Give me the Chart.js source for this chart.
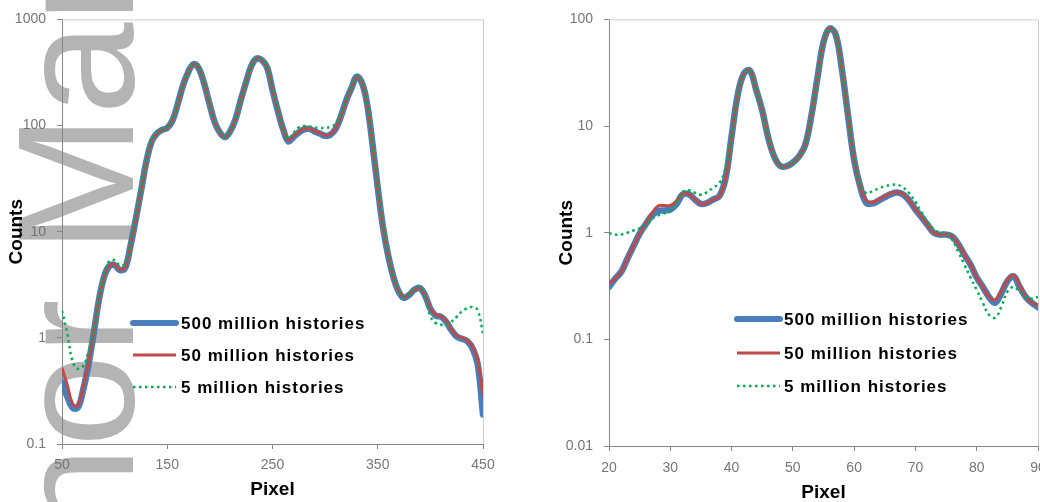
<!DOCTYPE html>
<html>
<head>
<meta charset="utf-8">
<script src="https://cdn.jsdelivr.net/npm/chart.js@4.4.1/dist/chart.umd.min.js"></script>
<style>
  html, body { margin: 0; padding: 0; background: #fff; }
  #wrap { position: relative; width: 1040px; height: 502px; overflow: hidden; }
  canvas { position: absolute; top: 0; }
</style>
</head>
<body>
<div id="wrap">
  <canvas id="profileWide" width="520" height="502" style="left:0;width:520px;height:502px"></canvas>
  <canvas id="profileZoom" width="520" height="502" style="left:520px;width:520px;height:502px"></canvas>
</div>
<script>
// ---- series names ----
const seriesNames = ['500 million histories', '50 million histories', '5 million histories'];

// ---- wide profile (pixels 50-450) ----
const leftPixel = [50,55,60,65,70,75,80,85,90,95,100,105,110,115,120,125,130,135,140,145,
  150,155,160,165,170,175,180,185,190,195,200,205,210,215,220,225,230,235,240,245,
  250,255,260,265,270,275,280,285,290,295,300,305,310,315,320,325,330,335,340,345,
  350,355,360,365,370,375,380,385,390,395,400,405,410,415,420,425,430,435,440,445,450];
const left500M = [0.38,0.28,0.22,0.22,0.32,0.55,1.08,2.25,3.75,4.75,
  4.85,4.35,4.55,7.3,13,24,45,70,84,91,
  95,112,160,240,320,378,345,250,162,108,
  86,78,89,116,176,258,367,428,412,350,
  216,138,93,71,78,86,92,93,88,84,
  80,82,93,122,172,225,288,252,157,67,
  26,11,5.9,3.7,2.7,2.38,2.55,2.85,2.95,2.5,
  1.88,1.62,1.58,1.42,1.18,1.03,0.98,0.93,0.8,0.56,
  0.19];
const left50M = [0.52,0.36,0.24,0.23,0.34,0.57,1.1,2.3,3.8,4.8,
  4.9,4.4,4.6,7.4,13,24,45,70,84,91,
  95,112,160,240,320,378,345,250,162,108,
  86,78,89,116,176,258,367,428,412,350,
  216,138,94,73,80,87,93,94,89,85,
  81,83,94,122,172,225,288,252,157,67,
  26,11,5.9,3.7,2.75,2.42,2.58,2.85,2.95,2.5,
  1.9,1.65,1.6,1.45,1.2,1.05,1.0,0.95,0.83,0.62,
  0.28];
const left5M = [1.8,1.1,0.6,0.51,0.54,0.73,1.1,2.4,4.0,5.3,
  5.4,4.8,5.0,7.8,14,25,46,72,86,92,
  96,113,162,242,322,380,347,252,163,109,
  87,79,90,117,178,260,369,430,414,352,
  218,140,95,75,85,96,99,98,96,95,
  95,97,104,130,175,228,290,254,159,68,
  27,11.5,6.0,3.8,2.8,2.45,2.6,2.9,3.0,2.45,
  1.6,1.38,1.33,1.33,1.42,1.58,1.78,1.9,1.95,1.82,
  1.1];
const leftXTicks = [50, 150, 250, 350, 450];
const leftYTicks = [0.1, 1, 10, 100, 1000];

// ---- zoomed profile (pixels 20-90) ----
const rightPixel = [20,21,22,23,24,25,26,27,28,29,30,31,32,33,34,35,36,37,38,39,
  40,41,42,43,44,45,46,47,48,49,50,51,52,53,54,55,56,57,58,59,
  60,61,62,63,64,65,66,67,68,69,70,71,72,73,74,75,76,77,78,79,
  80,81,82,83,84,85,86,87,88,89,90];
const right500M = [0.31,0.37,0.43,0.57,0.75,0.98,1.2,1.45,1.6,1.62,
  1.65,1.85,2.28,2.3,2.05,1.86,1.9,2.05,2.2,3.2,
  8.0,19.5,31,33,22,14,7.7,5.1,4.2,4.2,
  4.55,5.2,6.6,12.3,28,61,82,72,34,12.6,
  4.8,2.7,1.9,1.88,2.0,2.15,2.3,2.38,2.28,2.0,
  1.65,1.4,1.18,1.0,0.96,0.96,0.92,0.78,0.62,0.5,
  0.38,0.31,0.25,0.22,0.27,0.35,0.39,0.31,0.25,0.22,
  0.2];
const right50M = [0.33,0.37,0.43,0.57,0.75,0.98,1.22,1.52,1.78,1.8,
  1.8,1.98,2.3,2.3,2.05,1.86,1.9,2.05,2.2,3.2,
  8.0,19.5,31,33,22,14,7.7,5.1,4.2,4.2,
  4.55,5.2,6.6,12.3,28,61,82,72,34,12.6,
  4.8,2.7,2.0,1.93,2.05,2.2,2.35,2.4,2.3,2.0,
  1.65,1.4,1.18,1.0,0.96,0.96,0.92,0.78,0.62,0.5,
  0.38,0.31,0.25,0.235,0.28,0.36,0.4,0.32,0.25,0.22,
  0.21];
const right5M = [0.99,0.96,0.96,1.0,1.05,1.1,1.2,1.35,1.45,1.52,
  1.6,1.9,2.4,2.5,2.37,2.27,2.4,2.65,2.9,4.0,
  8.3,19.5,31,33,22,14,7.7,5.1,4.2,4.2,
  4.55,5.2,6.6,12.3,28,61,82,72,34,12.6,
  4.9,2.8,2.35,2.45,2.6,2.72,2.8,2.82,2.65,2.35,
  1.95,1.55,1.25,1.08,1.0,0.98,0.86,0.66,0.5,0.38,
  0.29,0.22,0.17,0.16,0.2,0.28,0.31,0.28,0.25,0.24,
  0.25];
const rightXTicks = [20, 30, 40, 50, 60, 70, 80, 90];
const rightYTicks = [0.01, 0.1, 1, 10, 100];

// ---- styling ----
const FONT = "'Liberation Sans', Arial, sans-serif";
const AXIS_COLOR = '#868686';
const FRAME_COLOR = '#cfcfcf';
const TICK_COLOR = '#767676';
Chart.defaults.font.family = FONT;

function makeDatasets(xs, s500, s50, s5) {
  const pts = arr => xs.map((x, i) => ({ x: x, y: arr[i] }));
  return [
    { label: seriesNames[0], data: pts(s500), borderColor: '#4a7ebb', borderWidth: 6.5,
      borderCapStyle: 'round', borderJoinStyle: 'round', order: 2 },
    { label: seriesNames[1], data: pts(s50), borderColor: '#be4b48', borderWidth: 3,
      borderCapStyle: 'butt', borderJoinStyle: 'round', order: 1 },
    { label: seriesNames[2], data: pts(s5), borderColor: '#00b050', borderWidth: 2.5,
      borderDash: [2.5, 3.5], borderCapStyle: 'butt', order: 0 }
  ].map(d => Object.assign({ pointRadius: 0, pointHoverRadius: 0, tension: 0.4, fill: false }, d));
}

function yAxis(tickList, width, titlePad, tickPad) {
  return {
    type: 'logarithmic', position: 'left',
    min: tickList[0], max: tickList[tickList.length - 1],
    afterBuildTicks: s => { s.ticks = tickList.map(v => ({ value: v })); },
    afterFit: s => { s.width = width; },
    grid: { drawOnChartArea: false, drawTicks: true, tickLength: 5, color: AXIS_COLOR, lineWidth: 1 },
    border: { display: true, color: AXIS_COLOR, width: 1 },
    ticks: { padding: tickPad, color: TICK_COLOR, font: { size: 14 }, autoSkip: false,
      callback: v => String(v) },
    title: { display: true, text: 'Counts', color: '#000',
      font: { size: 19, weight: 'bold', lineHeight: 1 }, padding: { top: titlePad, bottom: 0 } }
  };
}

function xAxis(tickList, height, titlePad, tickPad) {
  return {
    type: 'linear', position: 'bottom',
    min: tickList[0], max: tickList[tickList.length - 1],
    afterBuildTicks: s => { s.ticks = tickList.map(v => ({ value: v })); },
    afterFit: s => { s.height = height; s.paddingLeft = 0; s.paddingRight = 0; },
    grid: { drawOnChartArea: false, drawTicks: true, tickLength: 5, color: AXIS_COLOR, lineWidth: 1 },
    border: { display: true, color: AXIS_COLOR, width: 1 },
    ticks: { padding: tickPad, color: TICK_COLOR, font: { size: 14 }, autoSkip: false,
      maxRotation: 0, callback: v => String(v) },
    title: { display: true, text: 'Pixel', color: '#000',
      font: { size: 19, weight: 'bold', lineHeight: 1 }, padding: { top: 0, bottom: titlePad } }
  };
}

// light frame on the top and right of the plot area
const framePlugin = {
  id: 'plotFrame',
  beforeDatasetsDraw(chart) {
    const { ctx, chartArea: a } = chart;
    ctx.save();
    ctx.strokeStyle = FRAME_COLOR;
    ctx.lineWidth = 1;
    ctx.beginPath();
    ctx.moveTo(a.left, a.top + 0.5);
    ctx.lineTo(a.right + 0.5, a.top + 0.5);
    ctx.lineTo(a.right + 0.5, a.bottom);
    ctx.stroke();
    ctx.restore();
  }
};

// series key drawn inside the plot area
function keyPlugin(lineX0, lineX1, textX, rowsY) {
  return {
    id: 'seriesKey',
    afterDraw(chart) {
      const ctx = chart.ctx;
      ctx.save();
      chart.data.datasets.forEach((ds, i) => {
        const y = rowsY[i];
        ctx.strokeStyle = ds.borderColor;
        ctx.lineWidth = i === 0 ? 6 : ds.borderWidth;
        ctx.lineCap = ds.borderCapStyle || 'butt';
        ctx.setLineDash(ds.borderDash || []);
        ctx.beginPath();
        ctx.moveTo(lineX0, y);
        ctx.lineTo(lineX1, y);
        ctx.stroke();
        ctx.setLineDash([]);
        ctx.fillStyle = '#000';
        ctx.font = "bold 17px " + FONT;
        ctx.textBaseline = 'middle';
        ctx.textAlign = 'left';
        if ('letterSpacing' in ctx) ctx.letterSpacing = '1px';
        ctx.fillText(ds.label, textX, y + 1);
        if ('letterSpacing' in ctx) ctx.letterSpacing = '0px';
      });
      ctx.restore();
    }
  };
}

// rotated grey manuscript mark behind the wide profile
const manuscriptMark = {
  id: 'manuscriptMark',
  beforeDraw(chart) {
    const ctx = chart.ctx;
    ctx.save();
    ctx.font = "166px " + FONT;
    ctx.fillStyle = '#b4b4b4';
    ctx.textBaseline = 'alphabetic';
    const lead = ctx.measureText('Author ').width;
    const mBox = ctx.measureText('M');
    const originY = 240 + lead - mBox.actualBoundingBoxLeft;
    ctx.translate(133, originY);
    ctx.rotate(-Math.PI / 2);
    ctx.fillText('Author Manuscript', 0, 0);
    ctx.restore();
  }
};

new Chart(document.getElementById('profileWide'), {
  type: 'line',
  data: { datasets: makeDatasets(leftPixel, left500M, left50M, left5M) },
  options: {
    responsive: false, animation: false, devicePixelRatio: 1,
    layout: { padding: { left: 0, right: 37, top: 17, bottom: 0 } },
    scales: { x: xAxis(leftXTicks, 58, 2.5, 8), y: yAxis(leftYTicks, 62, 7.5, 11) },
    plugins: { legend: { display: false }, tooltip: { enabled: false } }
  },
  plugins: [manuscriptMark, framePlugin, keyPlugin(133, 176, 181, [323, 355, 387])]
});

new Chart(document.getElementById('profileZoom'), {
  type: 'line',
  data: { datasets: makeDatasets(rightPixel, right500M, right50M, right5M) },
  options: {
    responsive: false, animation: false, devicePixelRatio: 1,
    layout: { padding: { left: 0, right: 2, top: 15, bottom: 0 } },
    scales: { x: xAxis(rightXTicks, 56, 0, 9), y: yAxis(rightYTicks, 89, 37.5, 11) },
    plugins: { legend: { display: false }, tooltip: { enabled: false } }
  },
  plugins: [framePlugin, keyPlugin(217, 260, 264, [319, 353, 386])]
});
</script>
</body>
</html>
